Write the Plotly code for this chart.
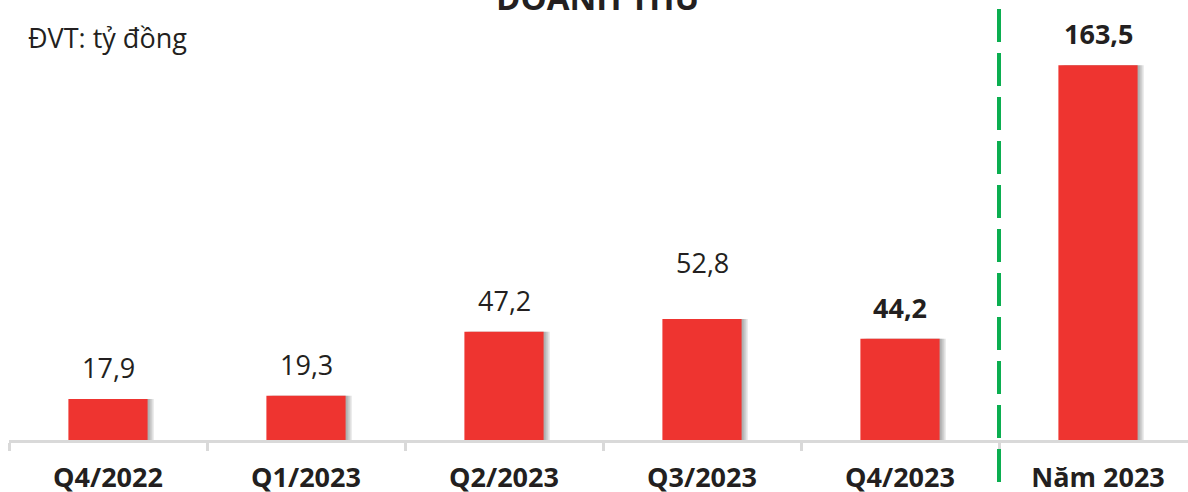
import plotly.graph_objects as go

# revenue, billion VND
categories = ["Q4/2022", "Q1/2023", "Q2/2023", "Q3/2023", "Q4/2023", "Năm 2023"]
revenue = [17.9, 19.3, 47.2, 52.8, 44.2, 163.5]
bold_labels = ["Q4/2023", "Năm 2023"]

TEXT = "#231F20"
RED = "#EE3430"
GREEN = "#0BAE50"
AXIS = "#D9D9D9"
FONT = "Open Sans"

W, H = 1188, 492
LEFT = 9
PLOT_TOP, PLOT_BOTTOM = 0, 440   # pixel rows of the plot area
BAR_W = 0.4
SLOT = 198                       # px per category

# extra lift (px) for labels that sit higher in the original
label_lift = {"Q3/2023": 25}

fig = go.Figure()

# soft shadow to the right of each bar
for shift_px in (6, 4, 2):
    fig.add_trace(go.Bar(
        x=categories, y=revenue,
        width=BAR_W, offset=-BAR_W / 2 + shift_px / SLOT,
        marker=dict(color="rgba(60,60,60,0.16)", line=dict(width=0)),
        hoverinfo="skip", showlegend=False,
    ))

fig.add_trace(go.Bar(
    x=categories, y=revenue,
    width=BAR_W, offset=-BAR_W / 2,
    marker=dict(color=RED, line=dict(width=0)),
    showlegend=False,
))

# value labels
for cat, val in zip(categories, revenue):
    txt = f"{val:.1f}".replace(".", ",")
    if cat in bold_labels:
        txt = f"<b>{txt}</b>"
    fig.add_annotation(
        x=cat, y=val, text=txt, showarrow=False,
        yanchor="bottom", yshift=11 + label_lift.get(cat, 0),
        font=dict(family=FONT, size=27, color=TEXT),
    )

plot_h = PLOT_BOTTOM - PLOT_TOP

def py(pix):
    # pixel row -> paper y
    return (PLOT_BOTTOM - pix) / plot_h

def px(pix):
    # pixel column -> paper x
    return (pix - LEFT) / (W - LEFT)

# green dashed separator between quarters and full year
fig.add_shape(
    type="line", xref="x", yref="paper",
    x0=4.5, x1=4.5, y0=py(9), y1=py(482),
    line=dict(color=GREEN, width=4, dash="33px,11px"),
)

fig.add_annotation(
    x=px(597), xref="paper", xanchor="center",
    y=py(15), yref="paper", yanchor="bottom", yshift=-7,
    text="<b>DOANH THU</b>", showarrow=False,
    font=dict(family=FONT, size=33, color=TEXT),
)
fig.add_annotation(
    x=px(26), xref="paper", xanchor="left",
    y=py(38), yref="paper", yanchor="middle",
    text="ĐVT: tỷ đồng", showarrow=False,
    font=dict(family=FONT, size=27, color=TEXT),
)

fig.update_layout(
    width=W, height=H,
    margin=dict(l=LEFT, r=0, t=PLOT_TOP, b=H - PLOT_BOTTOM, pad=0, autoexpand=False),
    barmode="overlay",
    plot_bgcolor="white", paper_bgcolor="white",
    xaxis=dict(
        range=[-0.5, -0.5 + (W - LEFT) / SLOT],
        automargin=False,
        showline=True, linecolor=AXIS, linewidth=3,
        ticks="outside", ticklen=8, tickwidth=3, tickcolor=AXIS,
        tickson="boundaries", showgrid=False,
        tickfont=dict(family=FONT, size=27, color=TEXT),
        ticklabelstandoff=12,
        tickvals=categories,
        ticktext=[f"<b>{c}</b>" for c in categories],
    ),
    yaxis=dict(range=[0, 192], visible=False, showgrid=False, zeroline=False),
)

# page body has a default 8px margin; drop it so the chart fills the window
fig.write_html(
    "out.html",
    config={"displayModeBar": False},
    post_script="document.body.style.margin='0';",
)
